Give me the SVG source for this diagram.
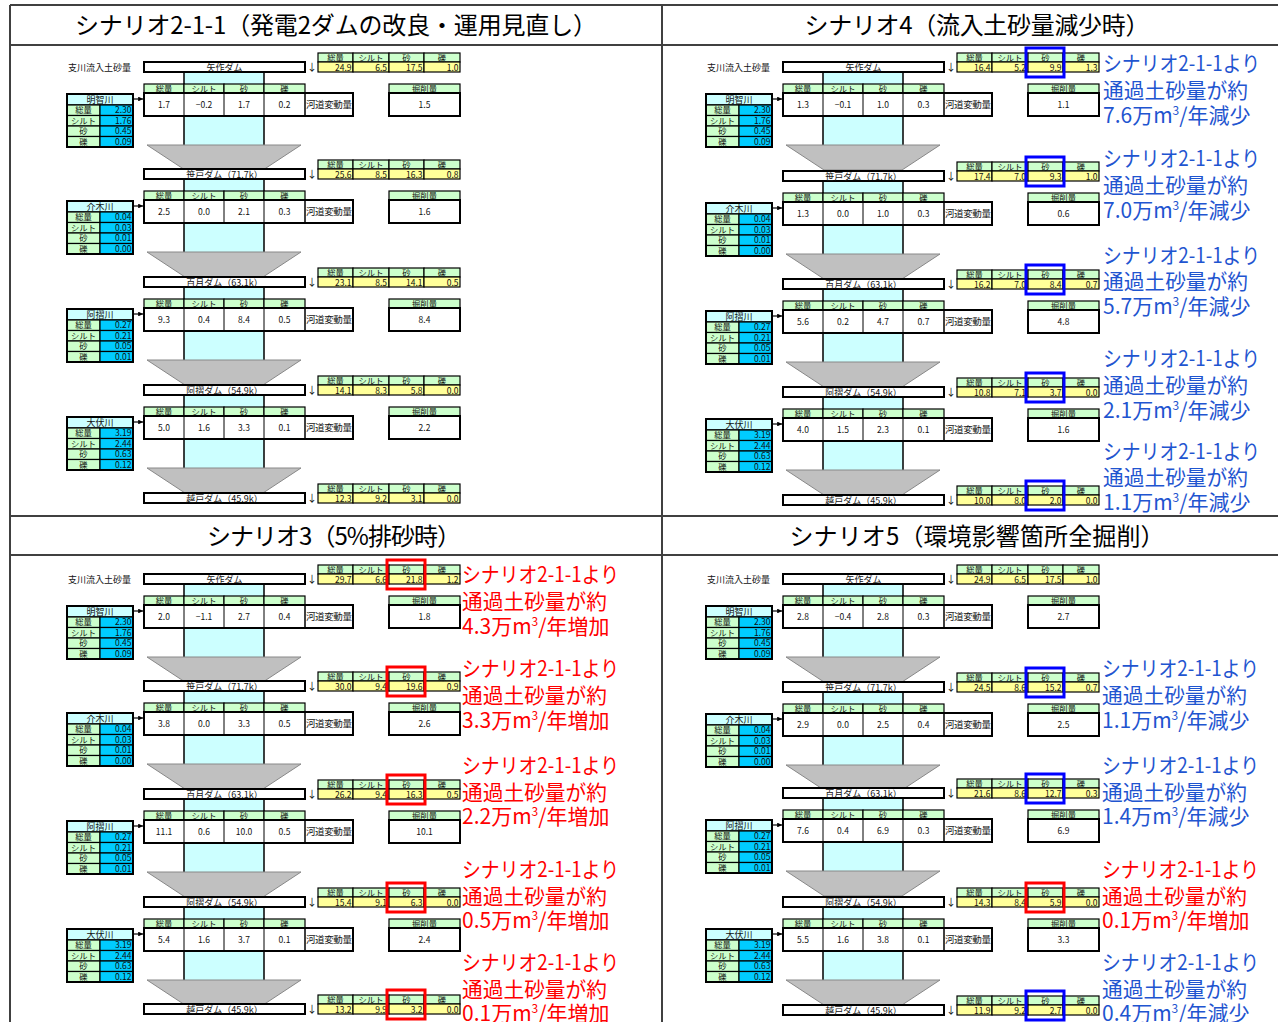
<svg xmlns="http://www.w3.org/2000/svg" width="1278" height="1022" viewBox="0 0 1278 1022">
<style>
text{font-family:"Noto Sans CJK JP","Liberation Sans",sans-serif;fill:#111}
.t{font-size:24px;text-anchor:middle;fill:#000}
.h{font-size:8.3px;text-anchor:middle}
.n{font-size:8.5px;text-anchor:end}
.c{font-size:8.5px;text-anchor:middle}
.dn{font-size:9px;text-anchor:middle}
.g{fill:#CCFFCC;stroke:#000;stroke-width:1.2}
.y{fill:#FFFF99;stroke:#000;stroke-width:1.2}
.w{fill:#fff;stroke:#000;stroke-width:2}
.cy{fill:#CCFFFF;stroke:#000;stroke-width:1.5}
.b{fill:#00CCFF;stroke:#000;stroke-width:1.2}
.a{font-size:21px}
.ab{fill:#1F55D0}
.ar{fill:#FF0000}
.hb{fill:none;stroke:#0000FF;stroke-width:3}
.hr{fill:none;stroke:#FF0000;stroke-width:3}
.fr{stroke:#404040;stroke-width:2}
.lb{font-size:9px}
</style>
<defs>
<marker id="ah" viewBox="0 0 6 6" refX="6" refY="3" markerWidth="4" markerHeight="4" orient="auto"><path d="M0,0L6,3L0,6z" fill="#000"/></marker>
<g id="ytab">
<rect class="g" x="318" y="-9" width="35" height="9"/><rect class="g" x="353" y="-9" width="36" height="9"/><rect class="g" x="389" y="-9" width="35" height="9"/><rect class="g" x="424" y="-9" width="36" height="9"/>
<rect class="y" x="318" y="0" width="35" height="10"/><rect class="y" x="353" y="0" width="36" height="10"/><rect class="y" x="389" y="0" width="35" height="10"/><rect class="y" x="424" y="0" width="36" height="10"/>
<text class="h" x="335.5" y="-1.5">総量</text><text class="h" x="371" y="-1.5">シルト</text><text class="h" x="406.5" y="-1.5">砂</text><text class="h" x="442" y="-1.5">礫</text>
</g>
<g id="damf"><rect class="w" x="144" y="0" width="161" height="10"/><text x="312" y="9" font-size="10" text-anchor="middle" fill="#333">↓</text><use href="#ytab"/></g>
<g id="dam1"><use href="#damf"/><text class="dn" x="224.5" y="8.5">矢作ダム</text></g>
<g id="dam2"><use href="#damf"/><text class="dn" x="224.5" y="8.5">笹戸ダム（71.7k）</text></g>
<g id="dam3"><use href="#damf"/><text class="dn" x="224.5" y="8.5">百月ダム（63.1k）</text></g>
<g id="dam4"><use href="#damf"/><text class="dn" x="224.5" y="8.5">阿摺ダム（54.9k）</text></g>
<g id="dam5"><use href="#damf"/><text class="dn" x="224.5" y="8.5">越戸ダム（45.9k）</text></g>
<g id="seg">
<rect x="184" y="10" width="80" height="74" fill="#CCFFFF"/>
<path d="M184 10V84M264 10V84" stroke="#000" stroke-width="1.5"/>
<polygon points="147,83 301,83 263,108 185,108" fill="#C0C0C0" stroke="#888" stroke-width="1"/>
<rect class="g" x="144" y="22" width="40" height="9"/><rect class="g" x="184" y="22" width="40" height="9"/><rect class="g" x="224" y="22" width="40" height="9"/><rect class="g" x="264" y="22" width="41" height="9"/>
<text class="h" x="164" y="29.8">総量</text><text class="h" x="204" y="29.8">シルト</text><text class="h" x="244" y="29.8">砂</text><text class="h" x="284.5" y="29.8">礫</text>
<rect class="w" x="144" y="31" width="209" height="23"/>
<path d="M184 31V54M224 31V54M264 31V54" stroke="#000" stroke-width="1"/>
<path d="M305 31V54" stroke="#000" stroke-width="1.5"/>
<text x="329" y="46" font-size="9.5" text-anchor="middle" textLength="46">河道変動量</text>
<rect class="g" x="389" y="22" width="71" height="9"/>
<text class="h" x="424.5" y="29.8">掘削量</text>
<rect class="w" x="389" y="31" width="71" height="23"/>
<rect class="cy" x="67" y="32" width="66" height="11"/>
<rect class="g" x="67" y="43" width="33" height="10.5"/><rect class="b" x="100" y="43" width="33" height="10.5"/>
<rect class="g" x="67" y="53.5" width="33" height="10.5"/><rect class="b" x="100" y="53.5" width="33" height="10.5"/>
<rect class="g" x="67" y="64" width="33" height="10.5"/><rect class="b" x="100" y="64" width="33" height="10.5"/>
<rect class="g" x="67" y="74.5" width="33" height="10.5"/><rect class="b" x="100" y="74.5" width="33" height="10.5"/>
<rect x="67" y="32" width="66" height="53" fill="none" stroke="#000" stroke-width="2"/>
<text class="h" x="83.5" y="51.3">総量</text><text class="h" x="83.5" y="61.8">シルト</text><text class="h" x="83.5" y="72.3">砂</text><text class="h" x="83.5" y="82.8">礫</text>
</g>
<g id="tr1"><use href="#seg"/><text class="dn" x="100" y="41">明智川</text><text class="n" x="131.5" y="51.3">2.30</text><text class="n" x="131.5" y="61.8">1.76</text><text class="n" x="131.5" y="72.3">0.45</text><text class="n" x="131.5" y="82.8">0.09</text></g>
<g id="tr2"><use href="#seg"/><text class="dn" x="100" y="41">介木川</text><text class="n" x="131.5" y="51.3">0.04</text><text class="n" x="131.5" y="61.8">0.03</text><text class="n" x="131.5" y="72.3">0.01</text><text class="n" x="131.5" y="82.8">0.00</text></g>
<g id="tr3"><use href="#seg"/><text class="dn" x="100" y="41">阿摺川</text><text class="n" x="131.5" y="51.3">0.27</text><text class="n" x="131.5" y="61.8">0.21</text><text class="n" x="131.5" y="72.3">0.05</text><text class="n" x="131.5" y="82.8">0.01</text></g>
<g id="tr4"><use href="#seg"/><text class="dn" x="100" y="41">大伏川</text><text class="n" x="131.5" y="51.3">3.19</text><text class="n" x="131.5" y="61.8">2.44</text><text class="n" x="131.5" y="72.3">0.63</text><text class="n" x="131.5" y="82.8">0.12</text></g>
</defs>
<rect width="1278" height="1022" fill="#fff"/>
<g id="frame">
<path class="fr" d="M10 5H1278M10 45H1278M10 516H1278M10 555H1278M10 5V1022M662 5V1022"/>
<text class="t" x="336" y="34" textLength="522">シナリオ2-1-1（発電2ダムの改良・運用見直し）</text>
<text class="t" x="977" y="34" textLength="345">シナリオ4（流入土砂量減少時）</text>
<text class="t" x="334" y="545" textLength="254">シナリオ3（5%排砂時）</text>
<text class="t" x="977" y="545" textLength="375">シナリオ5（環境影響箇所全掘削）</text>
</g>

<!-- Top-left: scenario 2-1-1 -->
<g id="p-tl">
<text class="lb" x="68" y="70.5">支川流入土砂量</text>
<g id="tl-s1" transform="translate(0,62)"><use href="#tr1"/><text class="c" x="164" y="45.5">1.7</text><text class="c" x="204" y="45.5">−0.2</text><text class="c" x="244" y="45.5">1.7</text><text class="c" x="284.5" y="45.5">0.2</text><text class="c" x="424.5" y="45.5">1.5</text></g>
<g id="tl-s2" transform="translate(0,169)"><use href="#tr2"/><text class="c" x="164" y="45.5">2.5</text><text class="c" x="204" y="45.5">0.0</text><text class="c" x="244" y="45.5">2.1</text><text class="c" x="284.5" y="45.5">0.3</text><text class="c" x="424.5" y="45.5">1.6</text></g>
<g id="tl-s3" transform="translate(0,277)"><use href="#tr3"/><text class="c" x="164" y="45.5">9.3</text><text class="c" x="204" y="45.5">0.4</text><text class="c" x="244" y="45.5">8.4</text><text class="c" x="284.5" y="45.5">0.5</text><text class="c" x="424.5" y="45.5">8.4</text></g>
<g id="tl-s4" transform="translate(0,385)"><use href="#tr4"/><text class="c" x="164" y="45.5">5.0</text><text class="c" x="204" y="45.5">1.6</text><text class="c" x="244" y="45.5">3.3</text><text class="c" x="284.5" y="45.5">0.1</text><text class="c" x="424.5" y="45.5">2.2</text></g>
<g id="tl-d1" transform="translate(0,62)"><use href="#dam1"/><text class="n" x="351.5" y="8.5">24.9</text><text class="n" x="387" y="8.5">6.5</text><text class="n" x="422.5" y="8.5">17.5</text><text class="n" x="458.5" y="8.5">1.0</text></g>
<g id="tl-d2" transform="translate(0,169)"><use href="#dam2"/><text class="n" x="351.5" y="8.5">25.6</text><text class="n" x="387" y="8.5">8.5</text><text class="n" x="422.5" y="8.5">16.3</text><text class="n" x="458.5" y="8.5">0.8</text></g>
<g id="tl-d3" transform="translate(0,277)"><use href="#dam3"/><text class="n" x="351.5" y="8.5">23.1</text><text class="n" x="387" y="8.5">8.5</text><text class="n" x="422.5" y="8.5">14.1</text><text class="n" x="458.5" y="8.5">0.5</text></g>
<g id="tl-d4" transform="translate(0,385)"><use href="#dam4"/><text class="n" x="351.5" y="8.5">14.1</text><text class="n" x="387" y="8.5">8.3</text><text class="n" x="422.5" y="8.5">5.8</text><text class="n" x="458.5" y="8.5">0.0</text></g>
<g id="tl-d5" transform="translate(0,493)"><use href="#dam5"/><text class="n" x="351.5" y="8.5">12.3</text><text class="n" x="387" y="8.5">9.2</text><text class="n" x="422.5" y="8.5">3.1</text><text class="n" x="458.5" y="8.5">0.0</text></g>
</g>

<!-- Top-right: scenario 4 -->
<g id="p-tr">
<text class="lb" x="707" y="70.5">支川流入土砂量</text>
<g id="tr-s1" transform="translate(639,62)"><use href="#tr1"/><text class="c" x="164" y="45.5">1.3</text><text class="c" x="204" y="45.5">−0.1</text><text class="c" x="244" y="45.5">1.0</text><text class="c" x="284.5" y="45.5">0.3</text><text class="c" x="424.5" y="45.5">1.1</text></g>
<g id="tr-s2" transform="translate(639,171)"><use href="#tr2"/><text class="c" x="164" y="45.5">1.3</text><text class="c" x="204" y="45.5">0.0</text><text class="c" x="244" y="45.5">1.0</text><text class="c" x="284.5" y="45.5">0.3</text><text class="c" x="424.5" y="45.5">0.6</text></g>
<g id="tr-s3" transform="translate(639,279)"><use href="#tr3"/><text class="c" x="164" y="45.5">5.6</text><text class="c" x="204" y="45.5">0.2</text><text class="c" x="244" y="45.5">4.7</text><text class="c" x="284.5" y="45.5">0.7</text><text class="c" x="424.5" y="45.5">4.8</text></g>
<g id="tr-s4" transform="translate(639,387)"><use href="#tr4"/><text class="c" x="164" y="45.5">4.0</text><text class="c" x="204" y="45.5">1.5</text><text class="c" x="244" y="45.5">2.3</text><text class="c" x="284.5" y="45.5">0.1</text><text class="c" x="424.5" y="45.5">1.6</text></g>
<g id="tr-d1" transform="translate(639,62)"><use href="#dam1"/><text class="n" x="351.5" y="8.5">16.4</text><text class="n" x="387" y="8.5">5.2</text><text class="n" x="422.5" y="8.5">9.9</text><text class="n" x="458.5" y="8.5">1.3</text><rect class="hb" x="387" y="-14" width="38" height="29"/></g>
<g id="tr-d2" transform="translate(639,171)"><use href="#dam2"/><text class="n" x="351.5" y="8.5">17.4</text><text class="n" x="387" y="8.5">7.0</text><text class="n" x="422.5" y="8.5">9.3</text><text class="n" x="458.5" y="8.5">1.0</text><rect class="hb" x="387" y="-14" width="38" height="29"/></g>
<g id="tr-d3" transform="translate(639,279)"><use href="#dam3"/><text class="n" x="351.5" y="8.5">16.2</text><text class="n" x="387" y="8.5">7.0</text><text class="n" x="422.5" y="8.5">8.4</text><text class="n" x="458.5" y="8.5">0.7</text><rect class="hb" x="387" y="-14" width="38" height="29"/></g>
<g id="tr-d4" transform="translate(639,387)"><use href="#dam4"/><text class="n" x="351.5" y="8.5">10.8</text><text class="n" x="387" y="8.5">7.1</text><text class="n" x="422.5" y="8.5">3.7</text><text class="n" x="458.5" y="8.5">0.0</text><rect class="hb" x="387" y="-14" width="38" height="29"/></g>
<g id="tr-d5" transform="translate(639,495)"><use href="#dam5"/><text class="n" x="351.5" y="8.5">10.0</text><text class="n" x="387" y="8.5">8.0</text><text class="n" x="422.5" y="8.5">2.0</text><text class="n" x="458.5" y="8.5">0.0</text><rect class="hb" x="387" y="-14" width="38" height="29"/></g>
<g id="tr-notes">
<text class="a ab" x="1103" y="70.5" textLength="157" lengthAdjust="spacingAndGlyphs">シナリオ2-1-1より</text><text class="a ab" x="1103" y="97.5" textLength="145" lengthAdjust="spacingAndGlyphs">通過土砂量が約</text><text class="a ab" x="1103" y="122.5">7.6万m<tspan font-size="12" dy="-8">3</tspan><tspan dy="8">/年減少</tspan></text>
<text class="a ab" x="1103" y="165.5" textLength="157" lengthAdjust="spacingAndGlyphs">シナリオ2-1-1より</text><text class="a ab" x="1103" y="192.5" textLength="145" lengthAdjust="spacingAndGlyphs">通過土砂量が約</text><text class="a ab" x="1103" y="217.5">7.0万m<tspan font-size="12" dy="-8">3</tspan><tspan dy="8">/年減少</tspan></text>
<text class="a ab" x="1103" y="262.5" textLength="157" lengthAdjust="spacingAndGlyphs">シナリオ2-1-1より</text><text class="a ab" x="1103" y="288.5" textLength="145" lengthAdjust="spacingAndGlyphs">通過土砂量が約</text><text class="a ab" x="1103" y="313.5">5.7万m<tspan font-size="12" dy="-8">3</tspan><tspan dy="8">/年減少</tspan></text>
<text class="a ab" x="1103" y="365.5" textLength="157" lengthAdjust="spacingAndGlyphs">シナリオ2-1-1より</text><text class="a ab" x="1103" y="392.5" textLength="145" lengthAdjust="spacingAndGlyphs">通過土砂量が約</text><text class="a ab" x="1103" y="417.5">2.1万m<tspan font-size="12" dy="-8">3</tspan><tspan dy="8">/年減少</tspan></text>
<text class="a ab" x="1103" y="458.5" textLength="157" lengthAdjust="spacingAndGlyphs">シナリオ2-1-1より</text><text class="a ab" x="1103" y="485" textLength="145" lengthAdjust="spacingAndGlyphs">通過土砂量が約</text><text class="a ab" x="1103" y="510">1.1万m<tspan font-size="12" dy="-8">3</tspan><tspan dy="8">/年減少</tspan></text>
</g>
</g>

<!-- Bottom-left: scenario 3 -->
<g id="p-bl">
<text class="lb" x="68" y="582.5">支川流入土砂量</text>
<g id="bl-s1" transform="translate(0,574)"><use href="#tr1"/><text class="c" x="164" y="45.5">2.0</text><text class="c" x="204" y="45.5">−1.1</text><text class="c" x="244" y="45.5">2.7</text><text class="c" x="284.5" y="45.5">0.4</text><text class="c" x="424.5" y="45.5">1.8</text></g>
<g id="bl-s2" transform="translate(0,681)"><use href="#tr2"/><text class="c" x="164" y="45.5">3.8</text><text class="c" x="204" y="45.5">0.0</text><text class="c" x="244" y="45.5">3.3</text><text class="c" x="284.5" y="45.5">0.5</text><text class="c" x="424.5" y="45.5">2.6</text></g>
<g id="bl-s3" transform="translate(0,789)"><use href="#tr3"/><text class="c" x="164" y="45.5">11.1</text><text class="c" x="204" y="45.5">0.6</text><text class="c" x="244" y="45.5">10.0</text><text class="c" x="284.5" y="45.5">0.5</text><text class="c" x="424.5" y="45.5">10.1</text></g>
<g id="bl-s4" transform="translate(0,897)"><use href="#tr4"/><text class="c" x="164" y="45.5">5.4</text><text class="c" x="204" y="45.5">1.6</text><text class="c" x="244" y="45.5">3.7</text><text class="c" x="284.5" y="45.5">0.1</text><text class="c" x="424.5" y="45.5">2.4</text></g>
<g id="bl-d1" transform="translate(0,574)"><use href="#dam1"/><text class="n" x="351.5" y="8.5">29.7</text><text class="n" x="387" y="8.5">6.6</text><text class="n" x="422.5" y="8.5">21.8</text><text class="n" x="458.5" y="8.5">1.2</text><rect class="hr" x="387" y="-14" width="38" height="29"/></g>
<g id="bl-d2" transform="translate(0,681)"><use href="#dam2"/><text class="n" x="351.5" y="8.5">30.0</text><text class="n" x="387" y="8.5">9.4</text><text class="n" x="422.5" y="8.5">19.6</text><text class="n" x="458.5" y="8.5">0.9</text><rect class="hr" x="387" y="-14" width="38" height="29"/></g>
<g id="bl-d3" transform="translate(0,789)"><use href="#dam3"/><text class="n" x="351.5" y="8.5">26.2</text><text class="n" x="387" y="8.5">9.4</text><text class="n" x="422.5" y="8.5">16.3</text><text class="n" x="458.5" y="8.5">0.5</text><rect class="hr" x="387" y="-14" width="38" height="29"/></g>
<g id="bl-d4" transform="translate(0,897)"><use href="#dam4"/><text class="n" x="351.5" y="8.5">15.4</text><text class="n" x="387" y="8.5">9.1</text><text class="n" x="422.5" y="8.5">6.3</text><text class="n" x="458.5" y="8.5">0.0</text><rect class="hr" x="387" y="-14" width="38" height="29"/></g>
<g id="bl-d5" transform="translate(0,1004)"><use href="#dam5"/><text class="n" x="351.5" y="8.5">13.2</text><text class="n" x="387" y="8.5">9.9</text><text class="n" x="422.5" y="8.5">3.2</text><text class="n" x="458.5" y="8.5">0.0</text><rect class="hr" x="387" y="-14" width="38" height="29"/></g>
<g id="bl-notes">
<text class="a ar" x="462" y="581.5" textLength="157" lengthAdjust="spacingAndGlyphs">シナリオ2-1-1より</text><text class="a ar" x="462" y="608.5" textLength="145" lengthAdjust="spacingAndGlyphs">通過土砂量が約</text><text class="a ar" x="462" y="633.5">4.3万m<tspan font-size="12" dy="-8">3</tspan><tspan dy="8">/年増加</tspan></text>
<text class="a ar" x="462" y="675.5" textLength="157" lengthAdjust="spacingAndGlyphs">シナリオ2-1-1より</text><text class="a ar" x="462" y="702.5" textLength="145" lengthAdjust="spacingAndGlyphs">通過土砂量が約</text><text class="a ar" x="462" y="727.5">3.3万m<tspan font-size="12" dy="-8">3</tspan><tspan dy="8">/年増加</tspan></text>
<text class="a ar" x="462" y="772.5" textLength="157" lengthAdjust="spacingAndGlyphs">シナリオ2-1-1より</text><text class="a ar" x="462" y="799.5" textLength="145" lengthAdjust="spacingAndGlyphs">通過土砂量が約</text><text class="a ar" x="462" y="823.5">2.2万m<tspan font-size="12" dy="-8">3</tspan><tspan dy="8">/年増加</tspan></text>
<text class="a ar" x="462" y="876.5" textLength="157" lengthAdjust="spacingAndGlyphs">シナリオ2-1-1より</text><text class="a ar" x="462" y="903.5" textLength="145" lengthAdjust="spacingAndGlyphs">通過土砂量が約</text><text class="a ar" x="462" y="927.5">0.5万m<tspan font-size="12" dy="-8">3</tspan><tspan dy="8">/年増加</tspan></text>
<text class="a ar" x="462" y="969.5" textLength="157" lengthAdjust="spacingAndGlyphs">シナリオ2-1-1より</text><text class="a ar" x="462" y="996.5" textLength="145" lengthAdjust="spacingAndGlyphs">通過土砂量が約</text><text class="a ar" x="462" y="1020.5">0.1万m<tspan font-size="12" dy="-8">3</tspan><tspan dy="8">/年増加</tspan></text>
</g>
</g>

<!-- Bottom-right: scenario 5 -->
<g id="p-br">
<text class="lb" x="707" y="582.5">支川流入土砂量</text>
<g id="br-s1" transform="translate(639,574)"><use href="#tr1"/><text class="c" x="164" y="45.5">2.8</text><text class="c" x="204" y="45.5">−0.4</text><text class="c" x="244" y="45.5">2.8</text><text class="c" x="284.5" y="45.5">0.3</text><text class="c" x="424.5" y="45.5">2.7</text></g>
<g id="br-s2" transform="translate(639,682)"><use href="#tr2"/><text class="c" x="164" y="45.5">2.9</text><text class="c" x="204" y="45.5">0.0</text><text class="c" x="244" y="45.5">2.5</text><text class="c" x="284.5" y="45.5">0.4</text><text class="c" x="424.5" y="45.5">2.5</text></g>
<g id="br-s3" transform="translate(639,788)"><use href="#tr3"/><text class="c" x="164" y="45.5">7.6</text><text class="c" x="204" y="45.5">0.4</text><text class="c" x="244" y="45.5">6.9</text><text class="c" x="284.5" y="45.5">0.3</text><text class="c" x="424.5" y="45.5">6.9</text></g>
<g id="br-s4" transform="translate(639,897)"><use href="#tr4"/><text class="c" x="164" y="45.5">5.5</text><text class="c" x="204" y="45.5">1.6</text><text class="c" x="244" y="45.5">3.8</text><text class="c" x="284.5" y="45.5">0.1</text><text class="c" x="424.5" y="45.5">3.3</text></g>
<g id="br-d1" transform="translate(639,574)"><use href="#dam1"/><text class="n" x="351.5" y="8.5">24.9</text><text class="n" x="387" y="8.5">6.5</text><text class="n" x="422.5" y="8.5">17.5</text><text class="n" x="458.5" y="8.5">1.0</text></g>
<g id="br-d2" transform="translate(639,682)"><use href="#dam2"/><text class="n" x="351.5" y="8.5">24.5</text><text class="n" x="387" y="8.5">8.6</text><text class="n" x="422.5" y="8.5">15.2</text><text class="n" x="458.5" y="8.5">0.7</text><rect class="hb" x="387" y="-14" width="38" height="29"/></g>
<g id="br-d3" transform="translate(639,788)"><use href="#dam3"/><text class="n" x="351.5" y="8.5">21.6</text><text class="n" x="387" y="8.5">8.6</text><text class="n" x="422.5" y="8.5">12.7</text><text class="n" x="458.5" y="8.5">0.3</text><rect class="hb" x="387" y="-14" width="38" height="29"/></g>
<g id="br-d4" transform="translate(639,897)"><use href="#dam4"/><text class="n" x="351.5" y="8.5">14.3</text><text class="n" x="387" y="8.5">8.4</text><text class="n" x="422.5" y="8.5">5.9</text><text class="n" x="458.5" y="8.5">0.0</text><rect class="hr" x="387" y="-14" width="38" height="29"/></g>
<g id="br-d5" transform="translate(639,1005)"><use href="#dam5"/><text class="n" x="351.5" y="8.5">11.9</text><text class="n" x="387" y="8.5">9.2</text><text class="n" x="422.5" y="8.5">2.7</text><text class="n" x="458.5" y="8.5">0.0</text><rect class="hb" x="387" y="-14" width="38" height="29"/></g>
<g id="br-notes">
<text class="a ab" x="1102" y="675.5" textLength="157" lengthAdjust="spacingAndGlyphs">シナリオ2-1-1より</text><text class="a ab" x="1102" y="702.5" textLength="145" lengthAdjust="spacingAndGlyphs">通過土砂量が約</text><text class="a ab" x="1102" y="727.5">1.1万m<tspan font-size="12" dy="-8">3</tspan><tspan dy="8">/年減少</tspan></text>
<text class="a ab" x="1102" y="772.5" textLength="157" lengthAdjust="spacingAndGlyphs">シナリオ2-1-1より</text><text class="a ab" x="1102" y="799.5" textLength="145" lengthAdjust="spacingAndGlyphs">通過土砂量が約</text><text class="a ab" x="1102" y="823.5">1.4万m<tspan font-size="12" dy="-8">3</tspan><tspan dy="8">/年減少</tspan></text>
<text class="a ar" x="1102" y="876.5" textLength="157" lengthAdjust="spacingAndGlyphs">シナリオ2-1-1より</text><text class="a ar" x="1102" y="903.5" textLength="145" lengthAdjust="spacingAndGlyphs">通過土砂量が約</text><text class="a ar" x="1102" y="927.5">0.1万m<tspan font-size="12" dy="-8">3</tspan><tspan dy="8">/年増加</tspan></text>
<text class="a ab" x="1102" y="969.5" textLength="157" lengthAdjust="spacingAndGlyphs">シナリオ2-1-1より</text><text class="a ab" x="1102" y="996.5" textLength="145" lengthAdjust="spacingAndGlyphs">通過土砂量が約</text><text class="a ab" x="1102" y="1020.5">0.4万m<tspan font-size="12" dy="-8">3</tspan><tspan dy="8">/年減少</tspan></text>
</g>
</g>

<g id="connectors" stroke="#000" stroke-width="1.2" marker-end="url(#ah)">
<line x1="133" y1="99" x2="143" y2="99"/><line x1="133" y1="206" x2="143" y2="206"/><line x1="133" y1="314" x2="143" y2="314"/><line x1="133" y1="422" x2="143" y2="422"/>
<line x1="772" y1="99" x2="782" y2="99"/><line x1="772" y1="208" x2="782" y2="208"/><line x1="772" y1="316" x2="782" y2="316"/><line x1="772" y1="424" x2="782" y2="424"/>
<line x1="133" y1="611" x2="143" y2="611"/><line x1="133" y1="718" x2="143" y2="718"/><line x1="133" y1="826" x2="143" y2="826"/><line x1="133" y1="934" x2="143" y2="934"/>
<line x1="772" y1="611" x2="782" y2="611"/><line x1="772" y1="719" x2="782" y2="719"/><line x1="772" y1="825" x2="782" y2="825"/><line x1="772" y1="934" x2="782" y2="934"/>
</g>
</svg>
